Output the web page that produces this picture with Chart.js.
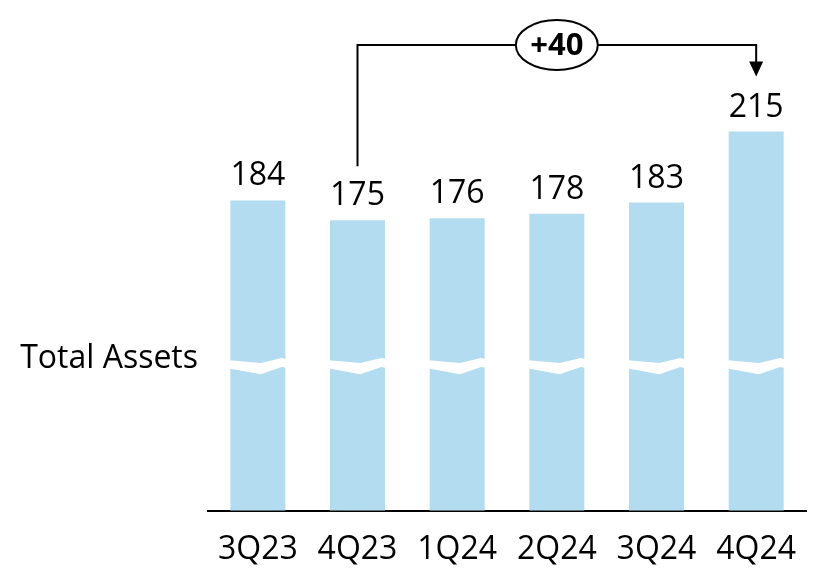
<!DOCTYPE html>
<html>
<head>
<meta charset="utf-8">
<script src="https://cdn.jsdelivr.net/npm/chart.js@4.4.1/dist/chart.umd.min.js"></script>
<style>
  html, body { margin: 0; padding: 0; background: #fff; }
  #wrap { width: 820px; height: 576px; }
</style>
</head>
<body>
<div id="wrap"><canvas id="myChart" width="820" height="576"></canvas></div>
<script>
const quarters = ["3Q23", "4Q23", "1Q24", "2Q24", "3Q24", "4Q24"];
const totalAssets = [184, 175, 176, 178, 183, 215];
const rowLabel = "Total Assets";
const fromIdx = 1, toIdx = 5;   // bracket goes 4Q23 -> 4Q24
const breakValue = 110;          // where the axis break is drawn

const FONT = "'Open Sans', 'DejaVu Sans', sans-serif";
const barColor = "#b4dcf0";

// value labels above bars
const barLabels = {
    id: "barLabels",
    afterDatasetsDraw(chart) {
        const ctx = chart.ctx;
        const bars = chart.getDatasetMeta(0).data;
        ctx.save();
        ctx.fillStyle = "#000";
        ctx.font = "32px " + FONT;
        ctx.textAlign = "center";
        ctx.textBaseline = "alphabetic";
        bars.forEach((b, i) => {
            ctx.fillText(String(totalAssets[i]), b.x, b.y - 15);
        });
        ctx.restore();
    }
};

// white zig-zag cut across every bar
const axisBreak = {
    id: "axisBreak",
    afterDatasetsDraw(chart) {
        const ctx = chart.ctx;
        const y = chart.scales.y.getPixelForValue(breakValue);
        const bars = chart.getDatasetMeta(0).data;
        ctx.save();
        ctx.fillStyle = "#fff";
        bars.forEach(b => {
            const l = b.x - b.width / 2 - 1, w = b.width + 2;
            const top = [[0, -4.3], [0.55, -1.7], [0.92, -6.7], [1, -5.3]];
            const bot = [[1, 3.5], [0.92, 2.3], [0.55, 9.7], [0, 4]];
            ctx.beginPath();
            top.concat(bot).forEach((p, k) => {
                const px = l + p[0] * w, py = y + p[1];
                if (k === 0) ctx.moveTo(px, py); else ctx.lineTo(px, py);
            });
            ctx.closePath();
            ctx.fill();
        });
        ctx.restore();
    }
};

// bracket with +40 bubble and arrow, plus the row label
const bracket = {
    id: "bracket",
    afterDraw(chart) {
        const ctx = chart.ctx;
        const area = chart.chartArea;
        const bars = chart.getDatasetMeta(0).data;
        const a = bars[fromIdx], b = bars[toIdx];
        const yTop = area.top + 25;
        const tip = b.y - 55;
        ctx.save();
        ctx.strokeStyle = "#000";
        ctx.lineWidth = 2;
        ctx.beginPath();
        ctx.moveTo(a.x, a.y - 54);
        ctx.lineTo(a.x, yTop);
        ctx.lineTo(b.x, yTop);
        ctx.lineTo(b.x, tip - 14);
        ctx.stroke();
        ctx.fillStyle = "#000";
        ctx.beginPath();
        ctx.moveTo(b.x - 7, tip - 15);
        ctx.lineTo(b.x + 7, tip - 15);
        ctx.lineTo(b.x, tip);
        ctx.closePath();
        ctx.fill();

        const cx = (a.x + b.x) / 2;
        ctx.beginPath();
        ctx.ellipse(cx, yTop, 41, 25, 0, 0, Math.PI * 2);
        ctx.fillStyle = "#fff";
        ctx.fill();
        ctx.stroke();
        const diff = totalAssets[toIdx] - totalAssets[fromIdx];
        ctx.fillStyle = "#000";
        ctx.font = "bold 31px " + FONT;
        ctx.textAlign = "center";
        ctx.textBaseline = "middle";
        ctx.fillText((diff >= 0 ? "+" : "") + diff, cx, yTop + 1);

        ctx.font = "32px " + FONT;
        ctx.textAlign = "right";
        ctx.textBaseline = "alphabetic";
        ctx.fillText(rowLabel, area.left - 10, chart.scales.y.getPixelForValue(breakValue) + 3);
        ctx.restore();
    }
};

new Chart(document.getElementById("myChart").getContext("2d"), {
    type: "bar",
    data: {
        labels: quarters,
        datasets: [{
            label: rowLabel,
            data: totalAssets,
            backgroundColor: barColor,
            borderWidth: 0,
            barPercentage: 0.552,
            categoryPercentage: 1.0
        }]
    },
    options: {
        responsive: false,
        animation: false,
        layout: { padding: { left: 208, right: 14, top: 20, bottom: -13 } },
        plugins: { legend: { display: false }, tooltip: { enabled: false } },
        scales: {
            x: {
                grid: { display: false, drawTicks: false },
                border: { display: true, color: "#000", width: 2 },
                ticks: { color: "#000", padding: 20, font: { family: FONT, size: 32 } }
            },
            y: {
                display: false,
                min: 44.2,
                max: 265.3
            }
        }
    },
    plugins: [barLabels, axisBreak, bracket]
});
</script>
</body>
</html>
